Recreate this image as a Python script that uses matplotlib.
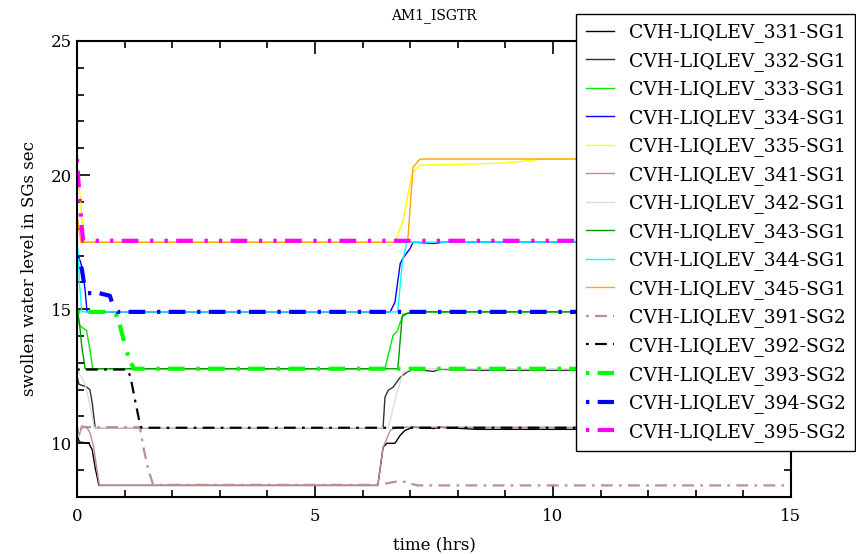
import matplotlib
matplotlib.use('Agg')
import matplotlib.pyplot as plt
from matplotlib.ticker import MultipleLocator

plt.rcParams['font.family'] = ['DejaVu Serif']
plt.rcParams['lines.scale_dashes'] = False

# series data: time (hrs) and level
t_331 = [0, 0.05, 0.25, 0.32, 0.38, 0.46, 6.32, 6.43, 6.51, 6.68, 6.79, 6.89, 7.06, 7.5, 7.6, 8.4, 15]
y_331 = [10.3, 10.05, 10.0, 9.75, 9.1, 8.43, 8.43, 9.85, 10.0, 10.0, 10.3, 10.48, 10.6, 10.55, 10.6, 10.52, 10.52]

t_332 = [0, 0.04, 0.2, 0.27, 0.32, 0.38, 6.43, 6.47, 6.54, 6.64, 6.79, 6.93, 7.06, 7.5, 7.6, 8.5, 15]
y_332 = [12.5, 12.2, 12.1, 12.0, 11.5, 10.58, 10.58, 11.72, 11.98, 12.09, 12.46, 12.65, 12.76, 12.68, 12.76, 12.72, 12.72]

t_333 = [0, 0.05, 0.2, 0.27, 0.33, 6.47, 6.64, 6.72, 6.83, 6.95, 7.04, 15]
y_333 = [14.9, 14.4, 14.2, 13.5, 12.78, 12.78, 14.03, 14.15, 14.7, 14.85, 14.9, 14.9]

t_334 = [0, 0.07, 0.11, 0.15, 0.17, 0.21, 6.58, 6.68, 6.79, 6.85, 7.0, 7.06, 7.5, 7.7, 15]
y_334 = [16.95, 16.8, 16.45, 16.0, 15.7, 14.9, 14.9, 15.26, 16.7, 16.9, 17.27, 17.5, 17.45, 17.5, 17.5]

t_335 = [0, 0.07, 0.11, 0.15, 6.68, 6.85, 7.04, 7.21, 8.0, 9.0, 9.8, 15]
y_335 = [20.1, 19.1, 18.2, 17.5, 17.5, 18.3, 20.07, 20.37, 20.4, 20.45, 20.6, 20.6]

t_341 = [0, 0.05, 0.1, 0.2, 0.27, 0.35, 0.42, 0.47, 6.32, 6.43, 6.58, 6.7, 15]
y_341 = [10.6, 10.3, 10.65, 10.6, 10.4, 9.85, 9.0, 8.43, 8.43, 9.85, 10.48, 10.6, 10.6]

t_342 = [0, 0.05, 0.17, 0.25, 0.36, 6.54, 6.72, 6.85, 7.06, 15]
y_342 = [12.8, 12.6, 12.2, 11.6, 10.58, 10.58, 11.87, 12.65, 12.78, 12.78]

t_343 = [0, 0.05, 0.1, 0.17, 6.74, 6.83, 6.85, 7.04, 15]
y_343 = [15.0, 14.5, 13.6, 12.78, 12.78, 14.7, 14.8, 14.9, 14.9]

t_344 = [0, 0.03, 0.05, 0.1, 6.74, 6.83, 6.93, 15]
y_344 = [17.5, 17.0, 16.0, 14.9, 14.9, 16.7, 17.5, 17.5]

t_345 = [0, 0.08, 6.85, 6.95, 7.06, 7.21, 15]
y_345 = [18.5, 17.5, 17.5, 17.6, 20.3, 20.6, 20.6]

t_391 = [0, 0.05, 0.1, 1.32, 1.4, 1.5, 1.6, 6.32, 6.8, 7.15, 15]
y_391 = [10.6, 10.4, 10.6, 10.6, 9.8, 9.0, 8.45, 8.45, 8.6, 8.43, 8.43]

t_392 = [0, 1.05, 1.12, 1.22, 1.3, 1.35, 15]
y_392 = [12.75, 12.75, 12.5, 11.6, 10.9, 10.58, 10.58]

t_393 = [0, 0.8, 0.9, 1.0, 1.1, 1.2, 15]
y_393 = [14.9, 14.9, 14.4, 13.7, 13.1, 12.78, 12.78]

t_394 = [0, 0.1, 0.17, 0.21, 0.46, 0.69, 0.78, 0.84, 15]
y_394 = [17.0, 16.5, 15.7, 15.6, 15.6, 15.5, 15.0, 14.9, 14.9]

t_395 = [0, 0.02, 0.06, 0.1, 0.13, 15]
y_395 = [20.6, 20.0, 19.0, 18.0, 17.55, 17.55]

labels = ['CVH-LIQLEV_331-SG1', 'CVH-LIQLEV_332-SG1', 'CVH-LIQLEV_333-SG1',
          'CVH-LIQLEV_334-SG1', 'CVH-LIQLEV_335-SG1', 'CVH-LIQLEV_341-SG1',
          'CVH-LIQLEV_342-SG1', 'CVH-LIQLEV_343-SG1', 'CVH-LIQLEV_344-SG1',
          'CVH-LIQLEV_345-SG1', 'CVH-LIQLEV_391-SG2', 'CVH-LIQLEV_392-SG2',
          'CVH-LIQLEV_393-SG2', 'CVH-LIQLEV_394-SG2', 'CVH-LIQLEV_395-SG2']
times = [t_331, t_332, t_333, t_334, t_335, t_341, t_342, t_343, t_344, t_345,
         t_391, t_392, t_393, t_394, t_395]
levels = [y_331, y_332, y_333, y_334, y_335, y_341, y_342, y_343, y_344, y_345,
          y_391, y_392, y_393, y_394, y_395]
colors = ['black', '#303030', '#00ee00', '#0000ff', '#ffff00', '#bc8f8f',
          '#dcdcdc', '#009900', '#00ffff', '#ffa500',
          '#bc8f8f', 'black', '#00ff00', '#0000ff', '#ff00ff']

# dot first so the legend handles read "· —" like the original
thin_dd = (0, (2, 4.5, 8.5, 4.5))
thick_dd = (0, (2.4, 6, 12, 8.5))
thick_ddd = (0, (2.4, 6, 12, 8.4, 2.4, 8))
styles = ['-'] * 10 + [thin_dd, thin_dd, thick_dd, thick_dd, thick_ddd]
widths = [1.0] * 10 + [1.6, 1.6, 3.0, 3.0, 3.0]

fig = plt.figure(figsize=(8.56, 5.54), dpi=100)
ax = fig.add_axes([0.09, 0.103, 0.834, 0.823])

for t, y, lab, c, ls, lw in zip(times, levels, labels, colors, styles, widths):
    ax.plot(t, y, color=c, linestyle=ls, linewidth=lw, label=lab,
            dash_capstyle='butt')

ax.set_xlim(0, 15)
ax.set_ylim(8, 25)
ax.xaxis.set_major_locator(MultipleLocator(5))
ax.xaxis.set_minor_locator(MultipleLocator(1))
ax.yaxis.set_major_locator(MultipleLocator(5))
ax.yaxis.set_minor_locator(MultipleLocator(1))
ax.tick_params(which='both', direction='in', top=True, right=True, labelsize=12, width=1.2)
ax.tick_params(which='major', length=9)
ax.tick_params(which='minor', length=5)
ax.tick_params(axis='x', pad=8)
for s in ax.spines.values():
    s.set_linewidth(1.5)

ax.set_title('AM1_ISGTR', fontsize=10, pad=16)
ax.set_xlabel('time (hrs)', fontsize=12, labelpad=8)
ax.set_ylabel('swollen water level in SGs sec', fontsize=12, labelpad=9)

leg = fig.legend(loc='upper right', bbox_to_anchor=(855 / 856, 1 - 14 / 554),
                 borderaxespad=0, fontsize=13.5, handlelength=1.5,
                 handletextpad=0.8, labelspacing=0.51, fancybox=False,
                 framealpha=1, edgecolor='black', borderpad=0.5)
leg.get_frame().set_linewidth(1.0)

fig.savefig('out.png', dpi=100)
